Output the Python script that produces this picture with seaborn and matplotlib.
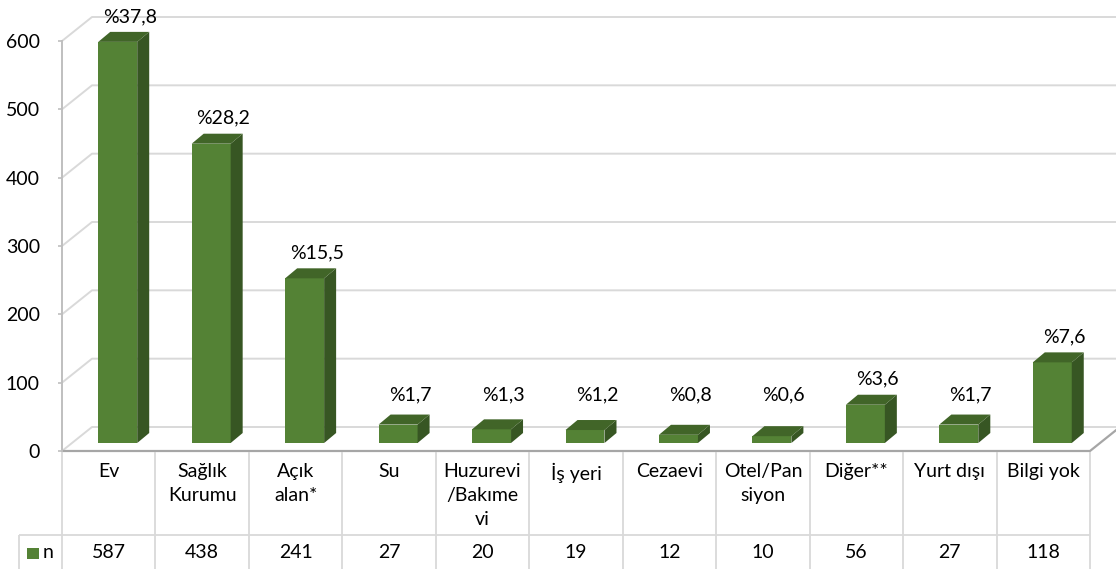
import matplotlib
matplotlib.use("Agg")
import matplotlib.pyplot as plt
import matplotlib.transforms as mtransforms
from matplotlib.lines import Line2D
from matplotlib.patches import Polygon, Rectangle
import seaborn as sns
import pandas as pd

# ---- data ----
categories = ["Ev", "Sağlık\nKurumu", "Açık\nalan*", "Su", "Huzurevi\n/Bakıme\nvi",
              "İş yeri", "Cezaevi", "Otel/Pan\nsiyon", "Diğer**", "Yurt dışı", "Bilgi yok"]
counts = [587, 438, 241, 27, 20, 19, 12, 10, 56, 27, 118]
percent_labels = ["%37,8", "%28,2", "%15,5", "%1,7", "%1,3", "%1,2",
                  "%0,8", "%0,6", "%3,6", "%1,7", "%7,6"]
y_ticks = [0, 100, 200, 300, 400, 500, 600]
series_name = "n"

# ---- style ----
FRONT = "#548235"
SIDE = "#375623"
TOP = "#416528"
GRID = "#d9d9d9"
EDGE = "#bfbfbf"
TEXT = "#000000"

W, H, DPI = 1116, 569, 100

sns.set_theme(style="white")
plt.rcParams["font.family"] = ["Lato", "DejaVu Sans"]

fig = plt.figure(figsize=(W / DPI, H / DPI), dpi=DPI)
fig.patch.set_facecolor("white")

# plot box (pixel positions, measured from the top-left corner)
X0, X1 = 62, 1090
Y_ZERO, Y_TOP = 451, 41
DEPTH_X, DEPTH_Y = 30, 24          # depth of the floor / back wall
BAR_SHIFT_X, BAR_SHIFT_Y = 9, 8    # bars sit a little behind the front edge
BAR_DX, BAR_DY = 12, 10            # depth of each column

ax = fig.add_axes([X0 / W, 1 - Y_ZERO / H, (X1 - X0) / W, (Y_ZERO - Y_TOP) / H])
ax.patch.set_alpha(0)
ax.set_zorder(2)

def fig_xy(px, py):
    """pixel (from top-left) -> figure fraction"""
    return px / W, 1 - py / H

def line_px(xs, ys, color, lw, z=1):
    fx = [x / W for x in xs]
    fy = [1 - y / H for y in ys]
    fig.add_artist(Line2D(fx, fy, color=color, lw=lw, transform=fig.transFigure,
                          zorder=z, solid_capstyle="butt"))

# ---- back wall grid and floor ----
scale = (Y_ZERO - Y_TOP) / (y_ticks[-1] - y_ticks[0])
for v in y_ticks:
    yf = Y_ZERO - v * scale
    yb = yf - DEPTH_Y
    line_px([X0, X0 + DEPTH_X, W + 5], [yf, yb, yb], GRID, 1.4, z=0.5)
# floor front edge and right side
line_px([X0, X1, X1 + DEPTH_X], [Y_ZERO, Y_ZERO, Y_ZERO - DEPTH_Y], "#a6a6a6", 1.6, z=0.6)

# ---- front faces of the columns ----
df = pd.DataFrame({"place": categories, series_name: counts})
sns.barplot(data=df, x="place", y=series_name, color=FRONT, saturation=1,
            width=0.417, ax=ax, zorder=3)
ax.set_xlim(-0.5, len(categories) - 0.5)
ax.set_ylim(y_ticks[0], y_ticks[-1])

shift = mtransforms.ScaledTranslation(BAR_SHIFT_X / DPI, BAR_SHIFT_Y / DPI, fig.dpi_scale_trans)
bar_tr = ax.transData + shift
to_fig = fig.transFigure.inverted()

fig.canvas.draw()
for patch, lab in zip(ax.patches, percent_labels):
    patch.set_transform(bar_tr)
    patch.set_clip_on(False)
    patch.set_edgecolor("none")
    x, w, h = patch.get_x(), patch.get_width(), patch.get_height()
    bl, br = bar_tr.transform((x, 0)), bar_tr.transform((x + w, 0))
    tl, tr = bar_tr.transform((x, h)), bar_tr.transform((x + w, h))
    d = (BAR_DX, BAR_DY)
    side = [br, tr, (tr[0] + d[0], tr[1] + d[1]), (br[0] + d[0], br[1] + d[1])]
    top = [tl, tr, (tr[0] + d[0], tr[1] + d[1]), (tl[0] + d[0], tl[1] + d[1])]
    fig.add_artist(Polygon(to_fig.transform(side), closed=True, facecolor=SIDE,
                           edgecolor="none", transform=fig.transFigure, zorder=4))
    fig.add_artist(Polygon(to_fig.transform(top), closed=True, facecolor=TOP,
                           edgecolor="none", transform=fig.transFigure, zorder=4))
    # percentage label above the column
    cx = (tl[0] + tr[0]) / 2 + d[0]
    back_top_px = H - (tl[1] + d[1])
    ly = min(back_top_px - 7, 403)
    fx, fy = cx / W, 1 - ly / H
    fig.text(fx, fy, lab, ha="center", va="bottom", fontsize=14, color=TEXT, zorder=6)

# ---- value axis ----
ax.set_yticks(y_ticks)
ax.set_yticklabels([str(v) for v in y_ticks], fontsize=14, color=TEXT)
ax.set_xticks([])
ax.set_xlabel("")
ax.set_ylabel("")
for s in ["top", "right", "bottom"]:
    ax.spines[s].set_visible(False)
ax.spines["left"].set_color(EDGE)
ax.spines["left"].set_linewidth(1.4)
ax.tick_params(axis="y", left=True, length=3, width=1.2, color=EDGE, pad=13)

# ---- data table under the plot ----
col_w = (X1 - X0) / len(categories)
ROW_SPLIT = 535
for k in range(len(categories) + 1):
    xk = X0 + k * col_w
    line_px([xk, xk], [Y_ZERO + 1, H + 2], GRID, 1.3, z=1)
line_px([19, X1], [ROW_SPLIT, ROW_SPLIT], GRID, 1.3, z=1)
line_px([19, 19], [ROW_SPLIT, H + 2], GRID, 1.3, z=1)

for i, (cat, n) in enumerate(zip(categories, counts)):
    cx = X0 + (i + 0.5) * col_w
    fx, fy = fig_xy(cx, 463)
    fig.text(fx, fy, cat, ha="center", va="top", fontsize=14, color=TEXT,
             linespacing=1.5, multialignment="center")
    fx, fy = fig_xy(cx, 553)
    fig.text(fx, fy, str(n), ha="center", va="center", fontsize=14, color=TEXT)

# legend key in the table row
fig.add_artist(Rectangle(fig_xy(27, 559), 12 / W, 11 / H, facecolor=FRONT,
                         edgecolor="none", transform=fig.transFigure))
fx, fy = fig_xy(43, 553)
fig.text(fx, fy, series_name, ha="left", va="center", fontsize=14, color=TEXT)

fig.savefig("out.png", dpi=DPI, facecolor="white")
